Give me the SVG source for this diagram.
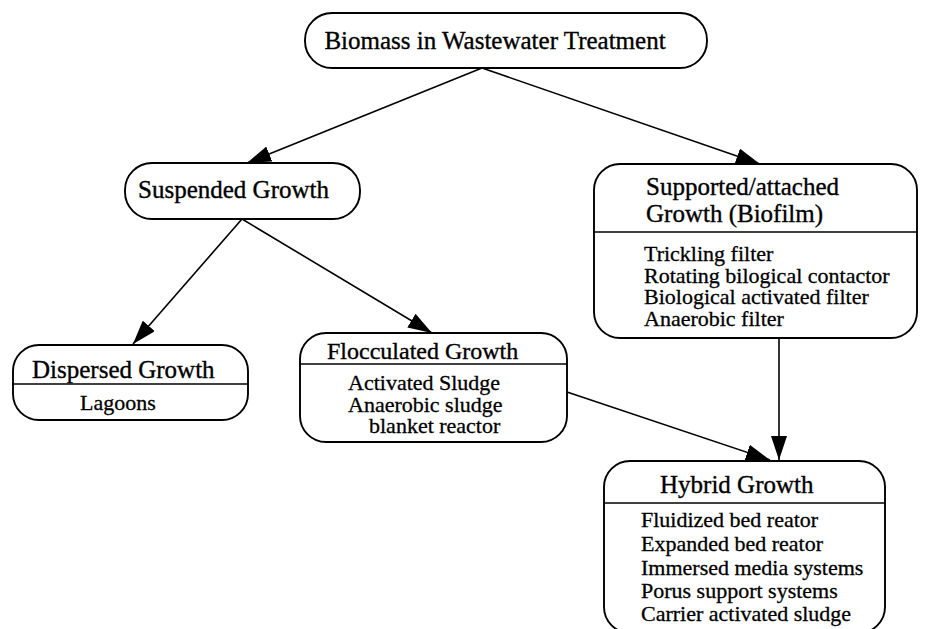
<svg xmlns="http://www.w3.org/2000/svg" width="925" height="629" viewBox="0 0 925 629">
  <defs>
    <marker id="arrow" viewBox="0 0 24 16" refX="24" refY="8" markerWidth="24" markerHeight="16" markerUnits="userSpaceOnUse" orient="auto">
      <path d="M0,0 L24,8 L0,16 Z" fill="#000"/>
    </marker>
    <style>
      .box { fill: #fff; stroke: #000; stroke-width: 1.9; }
      .div { stroke: #000; stroke-width: 1.5; }
      .edge { fill: none; stroke: #000; stroke-width: 1.6; marker-end: url(#arrow); }
      .title { font-family: "Liberation Serif", "Times New Roman", serif; font-size: 25px; fill: #000; stroke: #000; stroke-width: 0.35; }
      .body { font-family: "Liberation Serif", "Times New Roman", serif; font-size: 22px; fill: #000; stroke: #000; stroke-width: 0.3; }
    </style>
  </defs>
  <rect width="925" height="629" fill="#fff"/>

  <!-- connectors -->
  <g id="connectors">
    <path class="edge" d="M482,68 L247,163"/>
    <path class="edge" d="M482,68 L760,164"/>
    <path class="edge" d="M242,219 L133,344"/>
    <path class="edge" d="M242,219 L432,333"/>
    <path class="edge" d="M567,392 L770,460"/>
    <path class="edge" d="M779,338 L779,460"/>
  </g>

  <!-- root -->
  <g id="biomass">
    <rect class="box" x="305" y="13" width="402" height="55" rx="27" ry="27"/>
    <text class="title" x="495" y="49" text-anchor="middle">Biomass in Wastewater Treatment</text>
  </g>

  <g id="suspended">
    <rect class="box" x="125" y="163" width="235" height="56" rx="27" ry="27"/>
    <text class="title" x="138" y="198">Suspended Growth</text>
  </g>

  <g id="supported">
    <rect class="box" x="594" y="164" width="323" height="174" rx="26" ry="26"/>
    <line class="div" x1="594" y1="232" x2="917" y2="232"/>
    <text class="title" x="646" y="195">Supported/attached</text>
    <text class="title" x="646" y="222">Growth (Biofilm)</text>
    <text class="body" x="644" y="261">Trickling filter</text>
    <text class="body" x="644" y="283">Rotating bilogical contactor</text>
    <text class="body" x="644" y="304">Biological activated filter</text>
    <text class="body" x="644" y="326">Anaerobic filter</text>
  </g>

  <g id="dispersed">
    <rect class="box" x="13" y="345" width="235" height="75" rx="26" ry="26"/>
    <line class="div" x1="13" y1="384" x2="248" y2="384"/>
    <text class="title" x="32" y="378">Dispersed Growth</text>
    <text class="body" x="80" y="410">Lagoons</text>
  </g>

  <g id="flocculated">
    <rect class="box" x="300" y="333" width="267" height="109" rx="26" ry="26"/>
    <line class="div" x1="300" y1="364" x2="567" y2="364"/>
    <text class="title" x="327" y="359" style="font-size:24px">Flocculated Growth</text>
    <text class="body" x="348" y="390">Activated Sludge</text>
    <text class="body" x="348" y="412">Anaerobic sludge</text>
    <text class="body" x="369" y="433">blanket reactor</text>
  </g>

  <g id="hybrid">
    <rect class="box" x="604" y="461" width="281" height="172" rx="26" ry="26"/>
    <line class="div" x1="604" y1="503" x2="885" y2="503"/>
    <text class="title" x="660" y="493">Hybrid Growth</text>
    <text class="body" x="641" y="527">Fluidized bed reator</text>
    <text class="body" x="641" y="551">Expanded bed reator</text>
    <text class="body" x="641" y="575">Immersed media systems</text>
    <text class="body" x="641" y="598">Porus support systems</text>
    <text class="body" x="641" y="621">Carrier activated sludge</text>
  </g>
</svg>
